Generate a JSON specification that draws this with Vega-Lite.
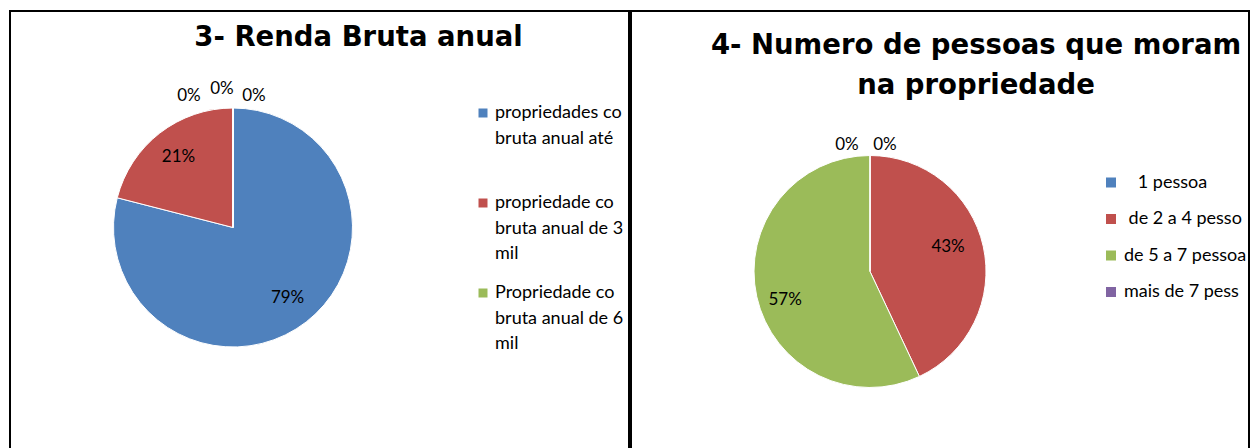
{
  "$schema": "https://vega.github.io/schema/vega-lite/v6.json",
  "padding": {"left": 9, "top": 10, "right": 0, "bottom": 0},
  "background": "#ffffff",
  "spacing": 0,
  "config": {
    "view": {"stroke": "#000000", "strokeWidth": 2},
    "font": "Lato",
    "title": {"font": "DejaVu Sans", "fontWeight": "bold", "fontSize": 27.5, "color": "#000000", "anchor": "middle", "baseline": "alphabetic"},
    "legend": {"labelFont": "Lato", "labelFontSize": 18, "labelColor": "#000000", "padding": 0, "symbolStrokeWidth": 0, "symbolType": "square", "title": null},
    "style": {"guide-label": {"ellipsis": "\u200b", "lineHeight": 25.5, "dy": 5}}
  },
  "datasets": {
    "renda": [
      {"categoria": "propriedades com renda\nbruta anual até 30 mil", "valor": 0.79, "ordem": 1},
      {"categoria": "propriedade com renda\nbruta anual de 30 a 60\nmil", "valor": 0.21, "ordem": 2},
      {"categoria": "Propriedade com renda\nbruta anual de 60 a 90\nmil", "valor": 0, "ordem": 3},
      {"categoria": "Propriedade com renda\nbruta anual de 90 a 120\nmil", "valor": 0, "ordem": 4},
      {"categoria": "Propriedade com renda\nbruta anual acima de\n120 mil", "valor": 0, "ordem": 5}
    ],
    "pessoas": [
      {"categoria": "\u200b\u00a0\u00a0\u00a01 pessoa", "valor": 0, "ordem": 1},
      {"categoria": "\u200b\u00a0de 2 a 4 pessoas", "valor": 0.43, "ordem": 2},
      {"categoria": "de 5 a 7 pessoas", "valor": 0.57, "ordem": 3},
      {"categoria": "mais de 7 pessoas", "valor": 0, "ordem": 4}
    ]
  },
  "hconcat": [
    {
      "width": 619,
      "height": 440,
      "view": {"stroke": "#000000", "strokeWidth": 2},
      "title": {"text": "3- Renda Bruta anual", "offset": -40, "dx": 39},
      "data": {"name": "renda"},
      "encoding": {
        "theta": {"field": "valor", "type": "quantitative", "stack": true},
        "order": {"field": "ordem", "type": "quantitative"},
        "detail": {"field": "categoria", "type": "nominal"}
      },
      "layer": [
        {
          "mark": {"type": "arc", "radius": 119.5, "xOffset": -86.5, "yOffset": -3.5, "stroke": "#ffffff", "strokeWidth": 1},
          "encoding": {
            "color": {
              "field": "categoria", "type": "nominal",
              "scale": {
                "domain": [
                  "propriedades com renda\nbruta anual até 30 mil",
                  "propriedade com renda\nbruta anual de 30 a 60\nmil",
                  "Propriedade com renda\nbruta anual de 60 a 90\nmil",
                  "Propriedade com renda\nbruta anual de 90 a 120\nmil",
                  "Propriedade com renda\nbruta anual acima de\n120 mil"
                ],
                "range": ["#4F81BD", "#C0504D", "#9BBB59", "#8064A2", "#4BACC6"]
              },
              "legend": {
                "values": [
                  "propriedades com renda\nbruta anual até 30 mil",
                  "propriedade com renda\nbruta anual de 30 a 60\nmil",
                  "Propriedade com renda\nbruta anual de 60 a 90\nmil"
                ],
                "orient": "none", "legendX": 464, "legendY": 93,
                "symbolSize": 81, "labelOffset": 3, "labelLimit": 133,
                "gridAlign": "all", "rowPadding": 21,
                "labelBaseline": "alphabetic",
                "labelExpr": "split(datum.label, '\\n')"
              }
            }
          }
        },
        {
          "transform": [{"filter": "datum.valor > 0"}],
          "mark": {"type": "text", "radius": 89, "xOffset": -86.5, "yOffset": -3.5, "fontSize": 17, "color": "#000000", "align": "center", "baseline": "middle"},
          "encoding": {"text": {"field": "valor", "type": "quantitative", "format": ".0%"}}
        },
        {
          "transform": [{"filter": "datum.ordem == 3"}],
          "mark": {"type": "text", "radius": 131.5, "xOffset": -86.5, "yOffset": -3.5, "dx": -44, "fontSize": 17, "color": "#000000", "align": "center", "baseline": "middle"},
          "encoding": {"text": {"field": "valor", "type": "quantitative", "format": ".0%"}}
        },
        {
          "transform": [{"filter": "datum.ordem == 4"}],
          "mark": {"type": "text", "radius": 131.5, "xOffset": -86.5, "yOffset": -3.5, "dx": -11, "dy": -7, "fontSize": 17, "color": "#000000", "align": "center", "baseline": "middle"},
          "encoding": {"text": {"field": "valor", "type": "quantitative", "format": ".0%"}}
        },
        {
          "transform": [{"filter": "datum.ordem == 5"}],
          "mark": {"type": "text", "radius": 131.5, "xOffset": -86.5, "yOffset": -3.5, "dx": 21, "fontSize": 17, "color": "#000000", "align": "center", "baseline": "middle"},
          "encoding": {"text": {"field": "valor", "type": "quantitative", "format": ".0%"}}
        }
      ]
    },
    {
      "width": 618,
      "height": 440,
      "view": {"stroke": "#000000", "strokeWidth": 2},
      "title": {"text": ["4- Numero de pessoas que moram", "na propriedade"], "offset": -88, "dx": 36, "lineHeight": 40},
      "data": {"name": "pessoas"},
      "encoding": {
        "theta": {"field": "valor", "type": "quantitative", "stack": true},
        "order": {"field": "ordem", "type": "quantitative"},
        "detail": {"field": "categoria", "type": "nominal"}
      },
      "layer": [
        {
          "mark": {"type": "arc", "radius": 116, "xOffset": -70, "yOffset": 40.5, "stroke": "#ffffff", "strokeWidth": 1},
          "encoding": {
            "color": {
              "field": "categoria", "type": "nominal",
              "scale": {
                "domain": ["\u200b\u00a0\u00a0\u00a01 pessoa", "\u200b\u00a0de 2 a 4 pessoas", "de 5 a 7 pessoas", "mais de 7 pessoas"],
                "range": ["#4F81BD", "#C0504D", "#9BBB59", "#8064A2"]
              },
              "legend": {
                "orient": "none", "legendX": 471, "legendY": 162.5,
                "symbolSize": 100, "labelOffset": 4, "labelLimit": 124,
                "gridAlign": "all", "rowPadding": 18.5,
                "labelBaseline": "alphabetic"
              }
            }
          }
        },
        {
          "mark": {"type": "text", "radius": 80, "xOffset": -70, "yOffset": 40.5, "dy": -7, "fontSize": 17, "color": "#000000", "align": "center", "baseline": "middle"},
          "encoding": {
            "text": {"field": "valor", "type": "quantitative", "format": ".0%"},
            "opacity": {"condition": {"test": "datum.ordem == 2", "value": 1}, "value": 0}
          }
        },
        {
          "mark": {"type": "text", "radius": 87, "xOffset": -70, "yOffset": 40.5, "dy": 10, "fontSize": 17, "color": "#000000", "align": "center", "baseline": "middle"},
          "encoding": {
            "text": {"field": "valor", "type": "quantitative", "format": ".0%"},
            "opacity": {"condition": {"test": "datum.ordem == 3", "value": 1}, "value": 0}
          }
        },
        {
          "transform": [{"filter": "datum.ordem == 1"}],
          "mark": {"type": "text", "radius": 126.5, "xOffset": -70, "yOffset": 40.5, "dx": 15, "fontSize": 17, "color": "#000000", "align": "center", "baseline": "middle"},
          "encoding": {"text": {"field": "valor", "type": "quantitative", "format": ".0%"}}
        },
        {
          "transform": [{"filter": "datum.ordem == 4"}],
          "mark": {"type": "text", "radius": 126.5, "xOffset": -70, "yOffset": 40.5, "dx": -23, "fontSize": 17, "color": "#000000", "align": "center", "baseline": "middle"},
          "encoding": {"text": {"field": "valor", "type": "quantitative", "format": ".0%"}}
        }
      ]
    }
  ],
  "resolve": {"scale": {"color": "independent", "theta": "independent"}, "legend": {"color": "independent"}}
}
